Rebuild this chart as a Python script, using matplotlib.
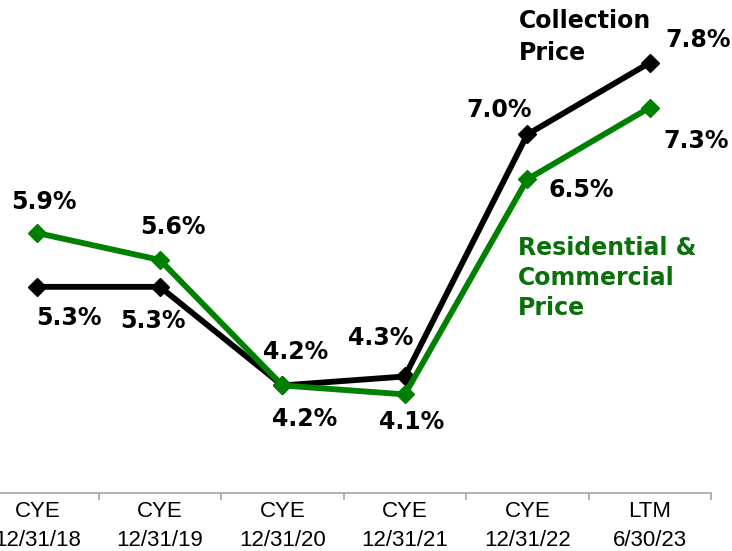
import numpy as np
import matplotlib
matplotlib.use("Agg")
import matplotlib.pyplot as plt

# chart data
periods = ["CYE\n12/31/18", "CYE\n12/31/19", "CYE\n12/31/20",
           "CYE\n12/31/21", "CYE\n12/31/22", "LTM\n6/30/23"]
collection = [5.3, 5.3, 4.2, 4.3, 7.0, 7.8]
residential = [5.9, 5.6, 4.2, 4.1, 6.5, 7.3]

# label offsets in pixels (dx, dy) from each point
coll_off = [(31, -31), (-7, -34), (13, 33), (-24, 38), (-28, 24), (48, 23)]
res_off = [(6, 31), (13, 33), (22, -34), (7, -28), (54, -11), (46, -33)]

GREEN = "#008000"

fig = plt.figure(figsize=(7.32, 5.51), dpi=100)
ax = fig.add_axes([0, 58 / 551, 711 / 732, 493 / 551])

x = np.arange(len(periods))
ax.plot(x, collection, color="black", lw=4.2, marker="D", ms=9, zorder=3)
ax.plot(x, residential, color=GREEN, lw=4.2, marker="D", ms=9, zorder=4)

for xi, v, off in zip(x, collection, coll_off):
    ax.annotate(f"{v:.1f}%", (xi, v), xytext=off, textcoords="offset pixels",
                ha="center", va="center", fontsize=17, fontweight="bold",
                color="black", family="DejaVu Sans")
for xi, v, off in zip(x, residential, res_off):
    ax.annotate(f"{v:.1f}%", (xi, v), xytext=off, textcoords="offset pixels",
                ha="center", va="center", fontsize=17, fontweight="bold",
                color="black", family="DejaVu Sans")

# series names
ax.text(519 / 711, 1 - 37 / 493, "Collection\nPrice", transform=ax.transAxes,
        ha="left", va="center", fontsize=17, fontweight="bold",
        color="black", linespacing=1.4, family="DejaVu Sans")
ax.text(518 / 711, 1 - 278 / 493, "Residential &\nCommercial\nPrice",
        transform=ax.transAxes, ha="left", va="center", fontsize=17,
        fontweight="bold", color="#0a700a", linespacing=1.3,
        family="DejaVu Sans")

ax.set_xlim(-0.306, 5.5)
ax.set_ylim(3.0, 8.5)

# category axis: labels at centers, tick marks between
ax.set_xticks(x)
ax.set_xticklabels(periods, fontsize=16, family="Liberation Sans",
                   linespacing=1.45)
ax.tick_params(axis="x", which="major", length=0, pad=6)
ax.set_xticks(x + 0.5, minor=True)
ax.tick_params(axis="x", which="minor", length=5, width=1.2, color="#a6a6a6")
ax.set_yticks([])

for s in ["top", "right", "left"]:
    ax.spines[s].set_visible(False)
ax.spines["bottom"].set_color("#a6a6a6")
ax.spines["bottom"].set_linewidth(1.2)

fig.savefig("out.png", dpi=100)
